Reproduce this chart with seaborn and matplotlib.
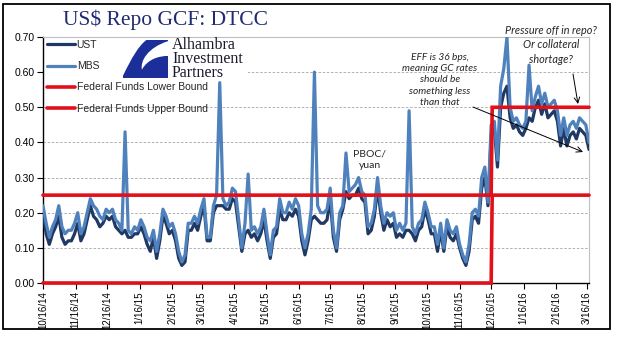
import numpy as np
import pandas as pd
import matplotlib
matplotlib.use("Agg")
import matplotlib.pyplot as plt
from matplotlib.patches import Rectangle, PathPatch, FancyArrowPatch
from matplotlib.path import Path
import seaborn as sns

# ---------------- data ----------------
start_date = "2014-10-16"
step_days = 3

mbs = [0.22, 0.17, 0.13, 0.16, 0.18, 0.22, 0.16, 0.14, 0.15, 0.15,
       0.17, 0.20, 0.14, 0.16, 0.20, 0.24, 0.22, 0.21, 0.19, 0.18,
       0.21, 0.20, 0.21, 0.18, 0.17, 0.15, 0.43, 0.15, 0.14, 0.16,
       0.15, 0.18, 0.16, 0.13, 0.12, 0.15, 0.09, 0.14, 0.21, 0.19,
       0.16, 0.17, 0.14, 0.09, 0.06, 0.08, 0.17, 0.17, 0.19, 0.17,
       0.21, 0.24, 0.13, 0.13, 0.22, 0.25, 0.57, 0.24, 0.22, 0.23,
       0.27, 0.26, 0.18, 0.10, 0.17, 0.31, 0.15, 0.16, 0.14, 0.16,
       0.21, 0.14, 0.08, 0.15, 0.16, 0.24, 0.20, 0.20, 0.23, 0.21,
       0.24, 0.22, 0.14, 0.10, 0.14, 0.21, 0.60, 0.22, 0.20, 0.20,
       0.21, 0.27, 0.15, 0.10, 0.20, 0.22, 0.37, 0.26, 0.27, 0.28,
       0.30, 0.26, 0.25, 0.16, 0.17, 0.21, 0.30, 0.22, 0.17, 0.20,
       0.19, 0.20, 0.15, 0.17, 0.15, 0.17, 0.49, 0.16, 0.14, 0.17,
       0.18, 0.23, 0.20, 0.16, 0.16, 0.11, 0.17, 0.10, 0.18, 0.15,
       0.14, 0.16, 0.11, 0.08, 0.06, 0.11, 0.20, 0.21, 0.19, 0.30,
       0.33, 0.23, 0.45, 0.46, 0.35, 0.56, 0.61, 0.70, 0.50, 0.46,
       0.47, 0.45, 0.44, 0.46, 0.62, 0.49, 0.53, 0.56, 0.51, 0.54,
       0.50, 0.51, 0.52, 0.49, 0.42, 0.47, 0.42, 0.45, 0.46, 0.44,
       0.47, 0.46, 0.45, 0.40]

ust = [0.20, 0.14, 0.11, 0.14, 0.16, 0.19, 0.13, 0.11, 0.12, 0.12,
       0.14, 0.17, 0.12, 0.14, 0.18, 0.22, 0.19, 0.18, 0.16, 0.17,
       0.19, 0.18, 0.19, 0.16, 0.15, 0.14, 0.15, 0.13, 0.13, 0.14,
       0.14, 0.16, 0.14, 0.11, 0.09, 0.13, 0.07, 0.12, 0.19, 0.17,
       0.14, 0.15, 0.12, 0.07, 0.05, 0.06, 0.15, 0.15, 0.17, 0.15,
       0.19, 0.22, 0.12, 0.12, 0.20, 0.22, 0.22, 0.22, 0.21, 0.21,
       0.24, 0.23, 0.16, 0.09, 0.14, 0.15, 0.13, 0.14, 0.12, 0.14,
       0.18, 0.12, 0.07, 0.13, 0.14, 0.21, 0.18, 0.18, 0.20, 0.19,
       0.21, 0.19, 0.12, 0.08, 0.12, 0.18, 0.19, 0.18, 0.17, 0.17,
       0.18, 0.24, 0.13, 0.09, 0.18, 0.21, 0.26, 0.24, 0.25, 0.25,
       0.27, 0.24, 0.23, 0.14, 0.15, 0.19, 0.27, 0.20, 0.15, 0.18,
       0.16, 0.17, 0.13, 0.14, 0.13, 0.15, 0.15, 0.14, 0.12, 0.15,
       0.16, 0.21, 0.18, 0.14, 0.14, 0.09, 0.15, 0.09, 0.16, 0.13,
       0.12, 0.14, 0.10, 0.07, 0.05, 0.09, 0.18, 0.19, 0.17, 0.27,
       0.30, 0.22, 0.42, 0.44, 0.33, 0.50, 0.54, 0.56, 0.47, 0.44,
       0.45, 0.43, 0.42, 0.44, 0.47, 0.46, 0.50, 0.52, 0.48, 0.51,
       0.47, 0.48, 0.49, 0.46, 0.39, 0.44, 0.39, 0.42, 0.43, 0.41,
       0.44, 0.43, 0.42, 0.38]

fed_dates = ["2014-10-16", "2015-12-16", "2015-12-17", "2016-03-18"]
fed_lower = [0.00, 0.00, 0.25, 0.25]
fed_upper = [0.25, 0.25, 0.50, 0.50]

series_labels = ["UST", "MBS", "Federal Funds Lower Bound", "Federal Funds Upper Bound"]

tick_dates = ["2014-10-16", "2014-11-16", "2014-12-16", "2015-01-16", "2015-02-16",
              "2015-03-16", "2015-04-16", "2015-05-16", "2015-06-16", "2015-07-16",
              "2015-08-16", "2015-09-16", "2015-10-16", "2015-11-16", "2015-12-16",
              "2016-01-16", "2016-02-16", "2016-03-16"]
tick_labels = ["10/16/14", "11/16/14", "12/16/14", "1/16/15", "2/16/15", "3/16/15",
               "4/16/15", "5/16/15", "6/16/15", "7/16/15", "8/16/15", "9/16/15",
               "10/16/15", "11/16/15", "12/16/15", "1/16/16", "2/16/16", "3/16/16"]
y_ticks = [0.0, 0.1, 0.2, 0.3, 0.4, 0.5, 0.6, 0.7]

# ---------------- styling ----------------
sns.set_theme(style="white")
plt.rcParams["font.family"] = ["Liberation Sans", "DejaVu Sans"]

W, H = 618, 341
fig = plt.figure(figsize=(W / 100, H / 100), dpi=100)
fig.patch.set_facecolor("white")


def fx(px):
    return px / W


def fy(py):
    return 1 - py / H


X0, X1, Y0, Y1 = 43, 589, 283, 37
ax = fig.add_axes([fx(X0), fy(Y0), fx(X1) - fx(X0), fy(Y1) - fy(Y0)])
ax.set_facecolor("white")
ax.set_axisbelow(True)

dates = pd.date_range(start_date, periods=len(mbs), freq=f"{step_days}D")
df = pd.DataFrame({"date": dates, "UST": ust, "MBS": mbs})
fed = pd.DataFrame({"date": pd.to_datetime(fed_dates), "lower": fed_lower, "upper": fed_upper})

c_ust, c_mbs, c_red = "#1F3864", "#4F81BD", "#E3101A"
sns.lineplot(data=df, x="date", y="UST", ax=ax, color=c_ust, lw=2.3, label=series_labels[0], zorder=3)
sns.lineplot(data=df, x="date", y="MBS", ax=ax, color=c_mbs, lw=2.3, label=series_labels[1], zorder=4)
sns.lineplot(data=fed, x="date", y="lower", ax=ax, color=c_red, lw=2.6, label=series_labels[2], zorder=5)
sns.lineplot(data=fed, x="date", y="upper", ax=ax, color=c_red, lw=2.6, label=series_labels[3], zorder=5)
for ln in ax.lines[2:]:
    ln.set_clip_on(False)
    ln.set_solid_joinstyle("miter")

ax.set_xlim(pd.Timestamp("2014-10-16"), pd.Timestamp("2016-03-18"))
ax.set_ylim(0, 0.7)
ax.set_xlabel("")
ax.set_ylabel("")

ax.set_xticks(pd.to_datetime(tick_dates))
ax.set_xticklabels(tick_labels, rotation=90, fontsize=7)
ax.set_yticks(y_ticks)
ax.set_yticklabels([f"{v:.2f}" for v in y_ticks], fontsize=7.5)
ax.tick_params(axis="both", direction="out", length=4, width=0.8, color="black",
               pad=2, bottom=True, left=True, labelcolor="black")

ax.yaxis.grid(True, linestyle=(0, (3, 2)), color="#A6A6A6", lw=0.6)
ax.xaxis.grid(False)
for s in ["left", "bottom"]:
    ax.spines[s].set_color("black")
    ax.spines[s].set_linewidth(1.0)
for s in ["top", "right"]:
    ax.spines[s].set_color("#BFBFBF")
    ax.spines[s].set_linewidth(0.8)

# white area behind legend
ax.add_patch(Rectangle((0, (Y0 - 100) / (Y0 - Y1)), (123 - X0) / (X1 - X0),
                       1 - (Y0 - 100) / (Y0 - Y1), transform=ax.transAxes,
                       facecolor="white", edgecolor="none", zorder=2.5))

handles = ax.lines[:4]
leg = ax.legend(handles, series_labels, loc="upper left",
                bbox_to_anchor=(fx(47), fy(40)), bbox_transform=fig.transFigure,
                frameon=False, fontsize=7.5, handlelength=2.7, handletextpad=0.15,
                labelspacing=1.08, borderaxespad=0, borderpad=0)
leg.set_zorder(6)

# title
fig.text(fx(166), fy(20), "US$ Repo GCF: DTCC", family=["Liberation Serif", "DejaVu Serif"],
         fontsize=15.5, color="#1F2A70", ha="center", va="center")

# logo
fig.add_artist(Rectangle((fx(120), fy(80)), fx(248) - fx(120), fy(39) - fy(80),
                         transform=fig.transFigure, facecolor="white", edgecolor="none", zorder=2))
lx0, lx1, ly0, ly1 = 123, 168, 78, 40


def lp(u, v):
    return (fx(lx0 + u * (lx1 - lx0)), fy(ly0 - v * (ly0 - ly1)))


verts = [lp(0.52, 1.0), lp(1.0, 1.0), lp(1.0, 0.97),
         lp(0.55, 0.80), lp(0.38, 0.45), lp(0.42, 0.22),
         lp(0.55, 0.50), lp(0.80, 0.58), lp(1.0, 0.58),
         lp(1.0, 0.0), lp(0.0, 0.0), lp(0.0, 0.06),
         lp(0.20, 0.55), lp(0.35, 0.85), lp(0.52, 1.0)]
codes = [Path.MOVETO, Path.LINETO, Path.LINETO,
         Path.CURVE4, Path.CURVE4, Path.CURVE4,
         Path.CURVE4, Path.CURVE4, Path.CURVE4,
         Path.LINETO, Path.LINETO, Path.LINETO,
         Path.CURVE4, Path.CURVE4, Path.CURVE4]
fig.add_artist(PathPatch(Path(verts, codes), transform=fig.transFigure,
                         facecolor="#1B2E9A", edgecolor="none", zorder=3))
fig.text(fx(172), fy(59), "Alhambra\nInvestment\nPartners", family=["Liberation Serif", "DejaVu Serif"],
         fontsize=11.5, color="#1A1A2E", ha="left", va="center", linespacing=0.82, zorder=4)

# annotations
fig.text(fx(370), fy(160), "PBOC/\nyuan", family=["Lato", "DejaVu Sans"], fontsize=7.5,
         ha="center", va="center", linespacing=1.3, zorder=6)
fig.text(fx(440), fy(80), "EFF is 36 bps,\nmeaning GC rates\nshould be\nsomething less\nthan that",
         family=["Lato", "DejaVu Sans"], style="italic", fontsize=7.3,
         ha="center", va="center", linespacing=1.3, zorder=6)
fig.text(fx(551), fy(45), "Pressure off in repo?\nOr collateral\nshortage?",
         family=["Lato", "DejaVu Sans"], style="italic", fontsize=7.8,
         ha="center", va="center", linespacing=1.35, zorder=6)

arrow_kw = dict(arrowstyle="->", lw=0.7, color="black", shrinkA=0, shrinkB=0, mutation_scale=10)
fig.add_artist(FancyArrowPatch((fx(473), fy(107)), (fx(583), fy(152)),
                               transform=fig.transFigure, zorder=6, **arrow_kw))
fig.add_artist(FancyArrowPatch((fx(573), fy(74)), (fx(578), fy(104)),
                               transform=fig.transFigure, zorder=6, **arrow_kw))

# outer border
fig.add_artist(Rectangle((fx(3), fy(329)), fx(610) - fx(3), fy(4) - fy(329),
                         transform=fig.transFigure, fill=False, edgecolor="black", lw=1.3, zorder=10))

fig.savefig("out.png", dpi=100)
